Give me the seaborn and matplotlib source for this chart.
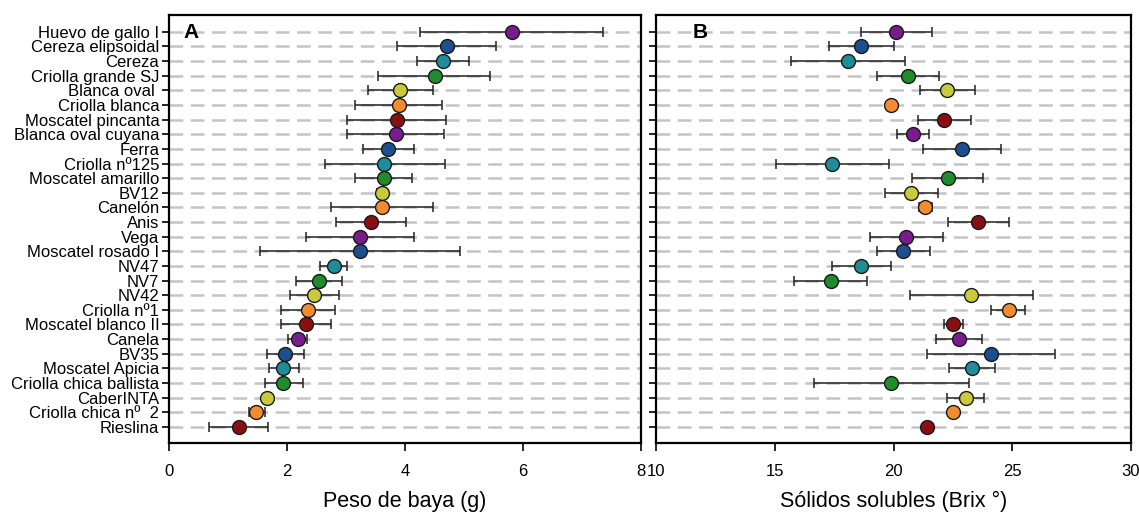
"""
Berry weight and soluble solids per cultivar (mean with range bars).
"""
import numpy as np
import pandas as pd
import matplotlib
matplotlib.use("Agg")
import matplotlib.pyplot as plt
import seaborn as sns

cultivars = [
    "Huevo de gallo I", "Cereza elipsoidal", "Cereza", "Criolla grande SJ",
    "Blanca oval ", "Criolla blanca", "Moscatel pincanta", "Blanca oval cuyana",
    "Ferra", "Criolla nº125", "Moscatel amarillo", "BV12", "Canelón", "Anis",
    "Vega", "Moscatel rosado I", "NV47", "NV7", "NV42", "Criolla nº1",
    "Moscatel blanco II", "Canela", "BV35", "Moscatel Apicia",
    "Criolla chica ballista", "CaberINTA", "Criolla chica nº  2", "Rieslina",
]

peso_mean = [5.81, 4.71, 4.64, 4.51, 3.92, 3.89, 3.86, 3.84, 3.72, 3.64,
             3.64, 3.61, 3.61, 3.42, 3.24, 3.24, 2.79, 2.54, 2.46, 2.35,
             2.32, 2.18, 1.96, 1.94, 1.94, 1.66, 1.48, 1.18]
peso_lo = [4.26, 3.87, 4.21, 3.55, 3.37, 3.15, 3.01, 3.02, 3.28, 2.64,
           3.16, 3.53, 2.75, 2.83, 2.32, 1.55, 2.56, 2.16, 2.05, 1.89,
           1.89, 2.01, 1.66, 1.69, 1.62, 1.66, 1.36, 0.68]
peso_hi = [7.36, 5.55, 5.08, 5.44, 4.48, 4.63, 4.70, 4.66, 4.15, 4.67,
           4.12, 3.70, 4.48, 4.01, 4.16, 4.94, 3.02, 2.93, 2.88, 2.81,
           2.75, 2.34, 2.28, 2.20, 2.27, 1.66, 1.62, 1.68]

brix_mean = [20.11, 18.63, 18.07, 20.60, 22.27, 19.91, 22.14, 20.82, 22.87, 17.43,
             22.28, 20.74, 21.34, 23.57, 20.54, 20.41, 18.64, 17.35, 23.28, 24.85,
             22.50, 22.77, 24.11, 23.30, 19.90, 23.04, 22.50, 21.43]
brix_lo = [18.62, 17.28, 15.67, 19.31, 21.10, 19.91, 21.02, 20.16, 21.23, 15.07,
           20.78, 19.63, 21.09, 22.31, 19.02, 19.31, 17.40, 15.81, 20.68, 24.12,
           22.11, 21.78, 21.42, 22.33, 16.64, 22.25, 22.50, 21.43]
brix_hi = [21.64, 20.01, 20.48, 21.92, 23.43, 19.91, 23.25, 21.49, 24.54, 19.81,
           23.78, 21.86, 21.61, 24.85, 22.07, 21.52, 19.91, 18.90, 25.89, 25.55,
           22.91, 23.71, 26.80, 24.27, 23.19, 23.83, 22.50, 21.43]

cycle = ["#7a1b8e", "#1d4e8f", "#1f8d99", "#1f8b2a", "#c9c93c", "#f28c2e", "#8a0f12"]
row_colors = [cycle[i % len(cycle)] for i in range(len(cultivars))]

df = pd.DataFrame({
    "cultivar": cultivars,
    "peso": peso_mean, "peso_lo": peso_lo, "peso_hi": peso_hi,
    "brix": brix_mean, "brix_lo": brix_lo, "brix_hi": brix_hi,
})

sns.set_style("white")
plt.rcParams.update({
    "font.family": ["Liberation Sans", "DejaVu Sans"],
    "font.size": 12,
    "text.color": "black",
    "axes.labelcolor": "black",
    "xtick.color": "black",
    "ytick.color": "black",
    "xtick.bottom": True,
    "ytick.left": True,
    "axes.linewidth": 1.6,
    "xtick.major.width": 1.2,
    "ytick.major.width": 1.2,
    "xtick.major.size": 6,
    "ytick.major.size": 5,
    "xtick.direction": "out",
    "ytick.direction": "out",
})

fig = plt.figure(figsize=(11.39, 5.15), dpi=100)
ax_a = fig.add_axes([169 / 1139, 72 / 515, 472 / 1139, 428 / 515])
ax_b = fig.add_axes([656 / 1139, 72 / 515, 475 / 1139, 428 / 515])

n = len(cultivars)
pos = np.arange(n)


def panel(ax, col, xlim, xticks, xlabel, tag, tag_x, show_labels):
    for p in pos:
        ax.axhline(p, color="#c4c4c4", lw=1.8, ls=(0, (5.5, 3)), zorder=0)
    lo = df[col] - df[col + "_lo"]
    hi = df[col + "_hi"] - df[col]
    ax.errorbar(df[col], pos, xerr=[lo, hi], fmt="none", ecolor="#222222",
                elinewidth=1.1, capsize=3.6, capthick=1.1, zorder=2)
    sns.stripplot(data=df, x=col, y="cultivar", hue="cultivar", palette=row_colors,
                  order=cultivars, hue_order=cultivars, jitter=False, size=10,
                  edgecolor="#1a1a1a", linewidth=1.0, legend=False, ax=ax, zorder=3)
    ax.set_xlim(*xlim)
    ax.set_ylim(n - 1 + 1.1, -1.15)
    ax.set_xticks(xticks)
    ax.set_yticks(pos)
    if show_labels:
        ax.set_yticklabels(cultivars, fontsize=12)
    else:
        ax.set_yticklabels([])
    ax.tick_params(axis="x", labelsize=12, pad=9, bottom=True)
    ax.tick_params(axis="y", pad=2, left=True)
    ax.set_xlabel(xlabel, fontsize=15.5, labelpad=9)
    ax.set_ylabel("")
    for s in ax.spines.values():
        s.set_visible(True)
        s.set_color("black")
    ax.text(tag_x, 0.96, tag, transform=ax.transAxes, fontsize=15,
            fontweight="bold", va="center", ha="left")


panel(ax_a, "peso", (0, 8), [0, 2, 4, 6, 8], "Peso de baya (g)", "A", 0.03, True)
panel(ax_b, "brix", (10, 30), [10, 15, 20, 25, 30], "Sólidos solubles (Brix °)", "B", 0.078, False)

fig.savefig("out.png", dpi=100)
plt.close(fig)
